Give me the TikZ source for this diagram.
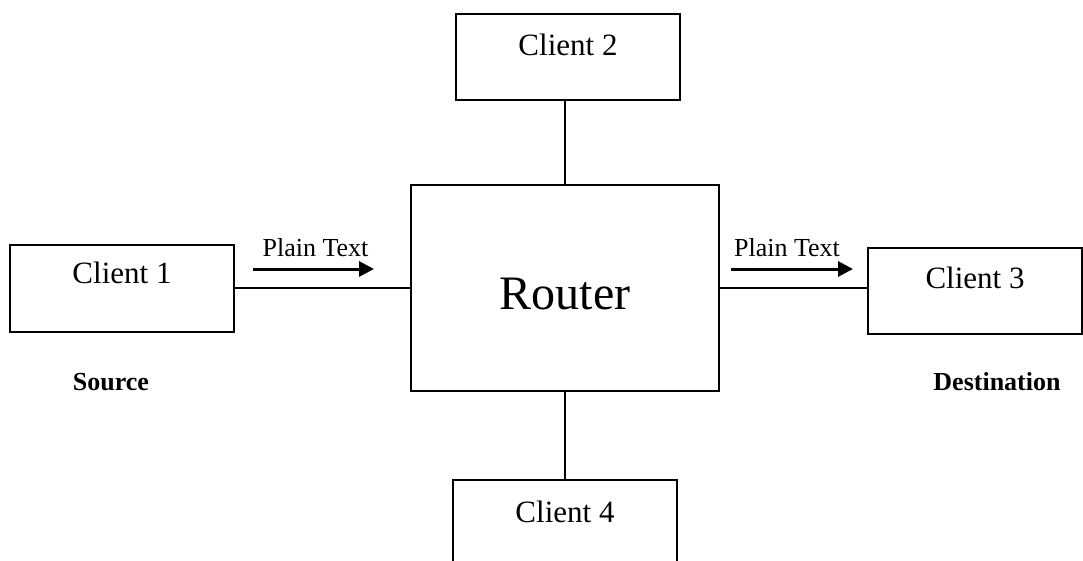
\documentclass[tikz,border=0pt]{standalone}
\usepackage{fontspec}
\setmainfont{Liberation Serif}
\usetikzlibrary{arrows.meta,positioning}

\begin{document}
\begin{tikzpicture}[x=1pt, y=-1pt,
    box/.style={draw, rectangle, line width=1.4pt, inner sep=0pt, minimum width=224pt, font=\fontsize{31}{36}\selectfont},
    link/.style={line width=1.4pt},
    flow/.style={-{Triangle[length=15pt,width=15pt]}, line width=3pt},
    tag/.style={font=\fontsize{26}{30}\selectfont, inner sep=0pt},
    role/.style={font=\fontsize{26}{30}\selectfont\bfseries, inner sep=0pt}]
  \clip (0,0) rectangle (1083,561);

  % Router in the middle
    \node[box, minimum width=308pt, text height=124pt, text depth=82pt, font=\fontsize{48}{56}\selectfont] (router) at (565,288) {Router};

  % Clients round it
    \node[box, text height=38.6pt, text depth=48.4pt] (c1) at (122,288.5) {Client 1};
    \node[box, text height=41.3pt, text depth=44.7pt] (c2) at (568,57) {Client 2};
    \node[box, minimum width=214pt, text height=40pt, text depth=46pt] (c3) at (975,291) {Client 3};
    \node[box, text height=42pt, text depth=60pt] (c4) at (565,531) {Client 4};

  % Links to the router
    \draw[link] (c1.east |- router.west) -- (router.west);
    \draw[link] (router.north) -- (router.north |- c2.south);
    \draw[link] (router.east) -- (router.east -| c3.west);
    \draw[link] (router.south) -- (router.south |- c4.north);

  % Plain text going in and out
    \node[tag] (pt1) at (315.5,248) {Plain Text};
    \coordinate (p1s) at (253,269);
    \coordinate (p1e) at (374,269);
    \draw[flow] (p1s) -- (p1e);
    \node[tag] (pt2) at (787,248) {Plain Text};
    \coordinate (p2s) at (731,269);
    \coordinate (p2e) at (853,269);
    \draw[flow] (p2s) -- (p2e);

  % Roles
    \node[role] (src) at (111,382) {Source};
    \node[role] (dst) at (997,382) {Destination};

\end{tikzpicture}
\end{document}
